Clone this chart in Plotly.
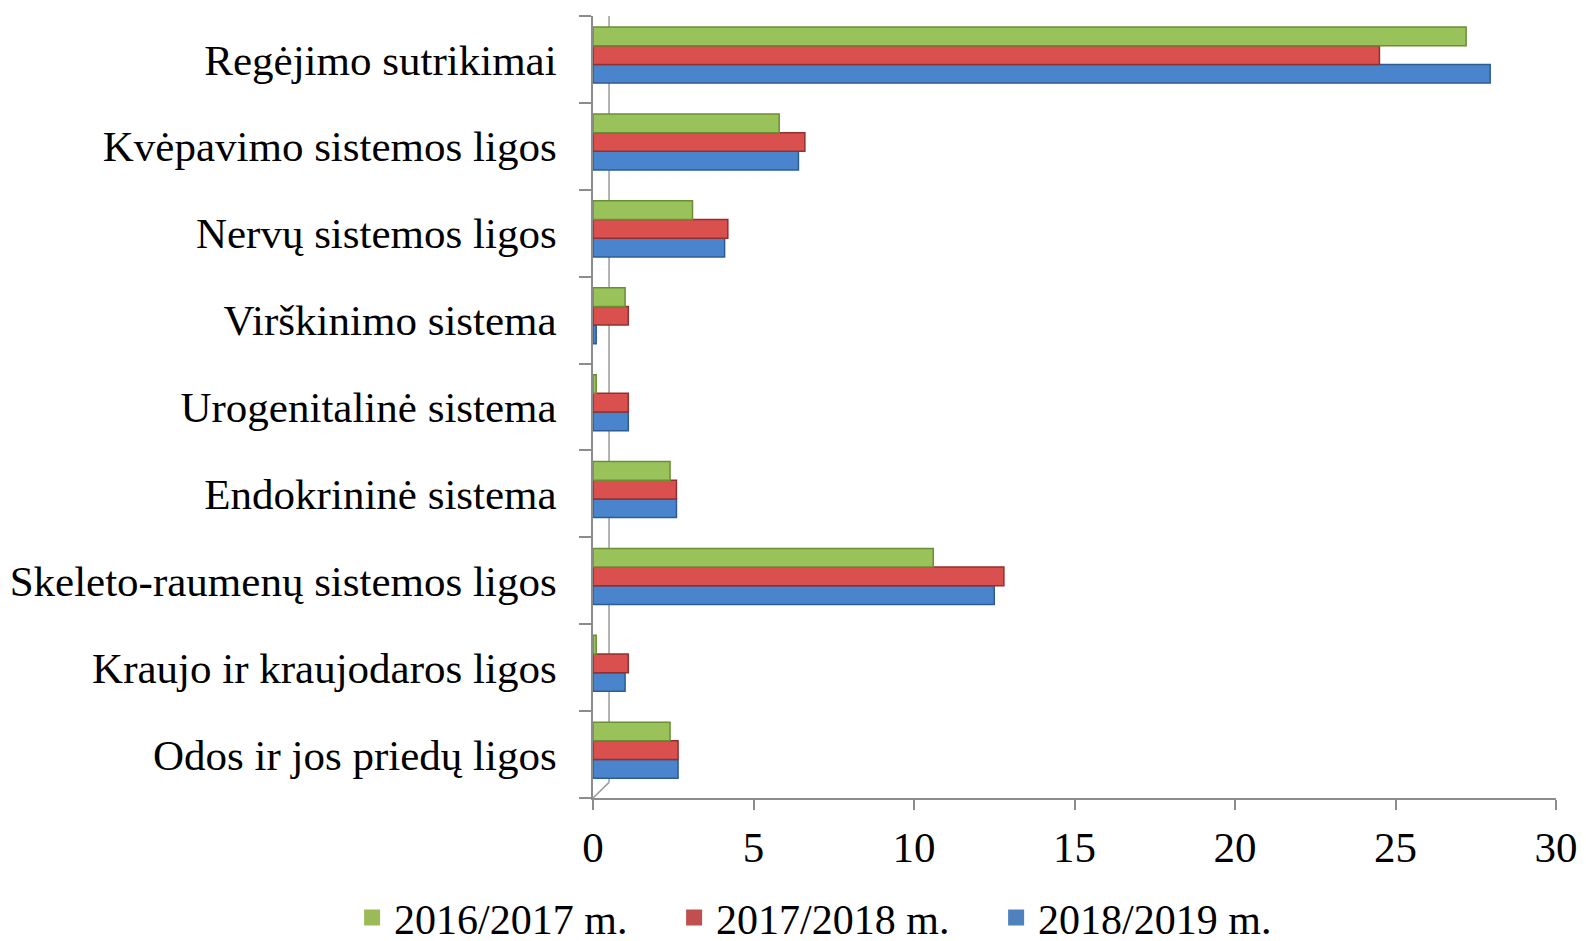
import plotly.graph_objects as go

categories = [
    "Odos ir jos priedų ligos",
    "Kraujo ir kraujodaros ligos",
    "Skeleto-raumenų sistemos ligos",
    "Endokrininė sistema",
    "Urogenitalinė sistema",
    "Virškinimo sistema",
    "Nervų sistemos ligos",
    "Kvėpavimo sistemos ligos",
    "Regėjimo sutrikimai",
]
v_2016_2017 = [2.4, 0.1, 10.6, 2.4, 0.1, 1.0, 3.1, 5.8, 27.2]
v_2017_2018 = [2.65, 1.1, 12.8, 2.6, 1.1, 1.1, 4.2, 6.6, 24.5]
v_2018_2019 = [2.65, 1.0, 12.5, 2.6, 1.1, 0.1, 4.1, 6.4, 27.95]

BAR_W = 0.215
SHIFT = 0.05  # slight upward shift of the bar group (3D perspective look)
series = [
    ("2018/2019 m.", v_2018_2019, "#4A84CC", "#2C5C95", -1.5 * BAR_W + SHIFT),
    ("2017/2018 m.", v_2017_2018, "#D9504E", "#92302D", -0.5 * BAR_W + SHIFT),
    ("2016/2017 m.", v_2016_2017, "#9AC25A", "#6A8E34", 0.5 * BAR_W + SHIFT),
]
legend_colors = {"2016/2017 m.": "#9BBB59", "2017/2018 m.": "#C0504D", "2018/2019 m.": "#4F81BD"}

FONT = "Liberation Serif, Times New Roman, serif"

fig = go.Figure()
for name, vals, col, edge, off in series:
    fig.add_trace(go.Bar(
        y=categories, x=vals, name=name, orientation="h",
        width=BAR_W, offset=off,
        marker=dict(color=col, line=dict(color=edge, width=1.5)),
        showlegend=False,
    ))
for name in ["2018/2019 m.", "2017/2018 m.", "2016/2017 m."]:
    fig.add_trace(go.Scatter(
        x=[None], y=[None], mode="markers", name=name,
        marker=dict(symbol="square", size=22, color=legend_colors[name]),
        showlegend=True,
    ))

fig.update_layout(
    width=1578, height=933,
    paper_bgcolor="white", plot_bgcolor="white",
    barmode="overlay",
    margin=dict(l=585, r=30, t=8, b=143, autoexpand=False),
    font=dict(family=FONT, size=43, color="black"),
    showlegend=True,
    legend=dict(
        orientation="h", traceorder="reversed",
        xref="container", x=0.2168, xanchor="left",
        yref="container", y=0.025, yanchor="middle",
        font=dict(family=FONT, size=42, color="black"),
        itemsizing="trace", itemwidth=34,
        entrywidth=273,
        bgcolor="rgba(0,0,0,0)",
    ),
    xaxis=dict(
        range=[0, 30], dtick=5, tick0=0,
        showgrid=False, zeroline=False,
        showline=True, linecolor="#8C8C8C", linewidth=2,
        ticks="outside", ticklen=10, tickcolor="#8C8C8C", tickwidth=1.5,
        ticklabelstandoff=0,
        tickfont=dict(family=FONT, size=43, color="black"),
    ),
    yaxis=dict(
        showgrid=False, zeroline=False,
        showline=True, linecolor="#8C8C8C", linewidth=1.5,
        ticks="outside", ticklen=12, tickcolor="#8C8C8C", tickwidth=1.5,
        tickson="boundaries",
        ticklabelstandoff=26,
        tickfont=dict(family=FONT, size=43, color="black"),
    ),
)

# 3D chart back wall edge (decoration)
fig.add_shape(type="line", xref="x", yref="paper", x0=0.5, x1=0.5, y0=0.02, y1=1.0,
              line=dict(color="#9A9A9A", width=1.5), layer="below")
fig.add_shape(type="line", xref="x", yref="paper", x0=0.0, x1=0.5, y0=0.0, y1=0.02,
              line=dict(color="#9A9A9A", width=1.5), layer="below")

fig.write_html("out.html")
